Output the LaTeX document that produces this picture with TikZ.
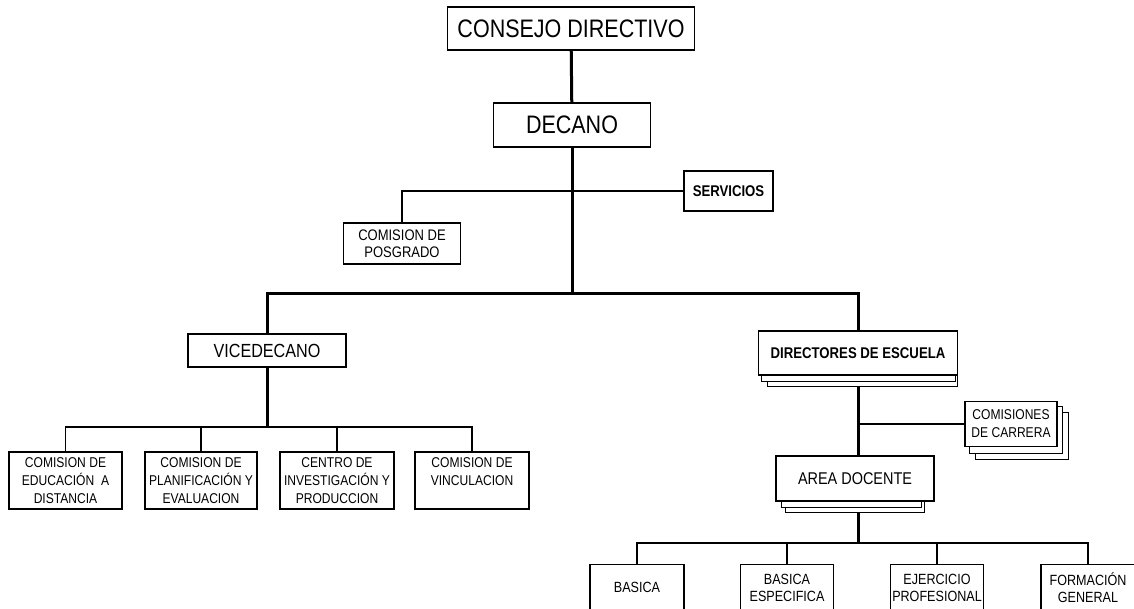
\documentclass[tikz,border=0pt]{standalone}
\usepackage{fontspec}
\usepackage{tikz}
\usetikzlibrary{positioning,calc,backgrounds}
\newfontfamily\orgfont[FakeStretch=0.85]{Liberation Sans}
\tikzset{
   unit/.style={draw=black, line width=1.4pt, fill=white, inner sep=0pt, align=center},
   shade/.style={draw=black, line width=1.3pt, fill=white},
   trunk/.style={draw=black, line width=3pt},
   branch/.style={draw=black, line width=1.3pt},
   fTop/.style={font=\orgfont\fontsize{25.3}{30}\selectfont},
   fVice/.style={font=\orgfont\fontsize{19}{23}\selectfont},
   fDir/.style={font=\orgfont\bfseries\fontsize{15.5}{19}\selectfont},
   fArea/.style={font=\orgfont\fontsize{17}{20}\selectfont},
   fSmall/.style={font=\orgfont\fontsize{15.3}{17}\selectfont},
   fUnit/.style={font=\orgfont\fontsize{14.2}{18}\selectfont},
   fBase/.style={font=\orgfont\fontsize{14.8}{17}\selectfont},
}
\begin{document}
\begin{tikzpicture}[x=1pt, y=-1pt]
\useasboundingbox (0,0) rectangle (1134,609);
\clip (0,0) rectangle (1134,609);
\begin{scope}[every node/.style={unit}]
  % top of the chart
  \node[fTop, minimum width=247pt, minimum height=43pt] (consejo) at (571,28.5) {CONSEJO DIRECTIVO};
  \node[fTop, minimum width=157pt, minimum height=44pt] (decano) at (572,125) {DECANO};
  \node[fDir, minimum width=89pt, minimum height=40pt] (servicios) at (728.5,191) {SERVICIOS};
  \node[fSmall, minimum width=117pt, minimum height=41pt] (posgrado) at (402,243.5) {COMISION DE\\POSGRADO};
  % left branch
  \node[fVice, minimum width=158pt, minimum height=33pt] (vicedecano) at (267,350.5) {VICEDECANO};
  \node[fUnit, minimum width=113pt, minimum height=57pt] (educacion) at (65.5,480.5) {COMISION DE\\EDUCACIÓN\ \ A\\DISTANCIA};
  \node[fUnit, minimum width=112pt, minimum height=57pt] (planif) at (201,480.5) {COMISION DE\\PLANIFICACIÓN Y\\EVALUACION};
  \node[fUnit, minimum width=114pt, minimum height=57pt] (centro) at (337,480.5) {CENTRO DE\\INVESTIGACIÓN Y\\PRODUCCION};
  \node[fUnit, minimum width=114pt, minimum height=57pt] (vinculacion) at (472,480.5) {COMISION DE\\VINCULACION\\~};
  % right branch
  \node[fDir, minimum width=199pt, minimum height=44pt] (directores) at (858,353) {DIRECTORES DE ESCUELA};
  \node[fUnit, minimum width=92pt, minimum height=45pt] (comisiones) at (1011,424) {COMISIONES\\DE CARRERA};
  \node[fArea, minimum width=158pt, minimum height=45pt] (area) at (855,478.5) {AREA DOCENTE};
  \node[fBase, anchor=north, minimum width=94pt, minimum height=46pt] (basica) at (637,564) {BASICA};
  \node[fBase, anchor=north, minimum width=93pt, minimum height=46pt] (especifica) at (787,564) {BASICA\\ESPECIFICA};
  \node[fBase, anchor=north, minimum width=93pt, minimum height=46pt] (ejercicio) at (937,564) {EJERCICIO\\PROFESIONAL};
  \node[fBase, anchor=north, minimum width=94pt, minimum height=46pt] (formacion) at (1088,564) {FORMACIÓN\\GENERAL};
\end{scope}

% stacked copies behind the boxes
\begin{scope}[on background layer]
  \draw[shade] ($(directores.south west)+(10,0)$) rectangle ($(directores.south east)+(-1,11)$);
  \draw[shade] ($(directores.south west)+(4,0)$) rectangle ($(directores.south east)+(-3,6)$);
  \draw[shade] ($(area.south west)+(10,0)$) rectangle ($(area.south east)+(-10,11)$);
  \draw[shade] ($(area.south west)+(6,0)$) rectangle ($(area.south east)+(-13,6)$);
  \draw[shade] ($(comisiones.north west)+(11,12)$) rectangle ($(comisiones.south east)+(11,12)$);
  \draw[shade] ($(comisiones.north west)+(5,6)$) rectangle ($(comisiones.south east)+(5,6)$);
\end{scope}

\coordinate (hub) at (572,294);
\coordinate (vbar) at (267,427);
\coordinate (cbar) at (858,424);
\coordinate (abar) at (858,543);

\draw[trunk] (consejo) -- (decano);
\draw[trunk] (decano) -- (hub);
\draw[branch] (posgrado.north) |- (servicios.west);
\draw[trunk] (vicedecano.north) |- (hub) -| (directores.north);

\draw[trunk] (vicedecano) -- (vbar);
\draw[branch] (educacion.north) |- (vbar) -| (vinculacion.north);
\foreach \n in {planif, centro}
  \draw[branch] (vbar -| \n) -- (\n.north);

\draw[trunk] ($(directores.south)+(0,11)$) -- (area.north -| cbar);
\draw[branch] (cbar) -- (comisiones);
\draw[trunk] ($(area.south -| abar)+(0,11)$) -- (abar);
\draw[branch] (basica.north) |- (abar) -| (formacion.north);
\foreach \n in {especifica, ejercicio}
  \draw[branch] (abar -| \n) -- (\n.north);
\end{tikzpicture}
\end{document}
